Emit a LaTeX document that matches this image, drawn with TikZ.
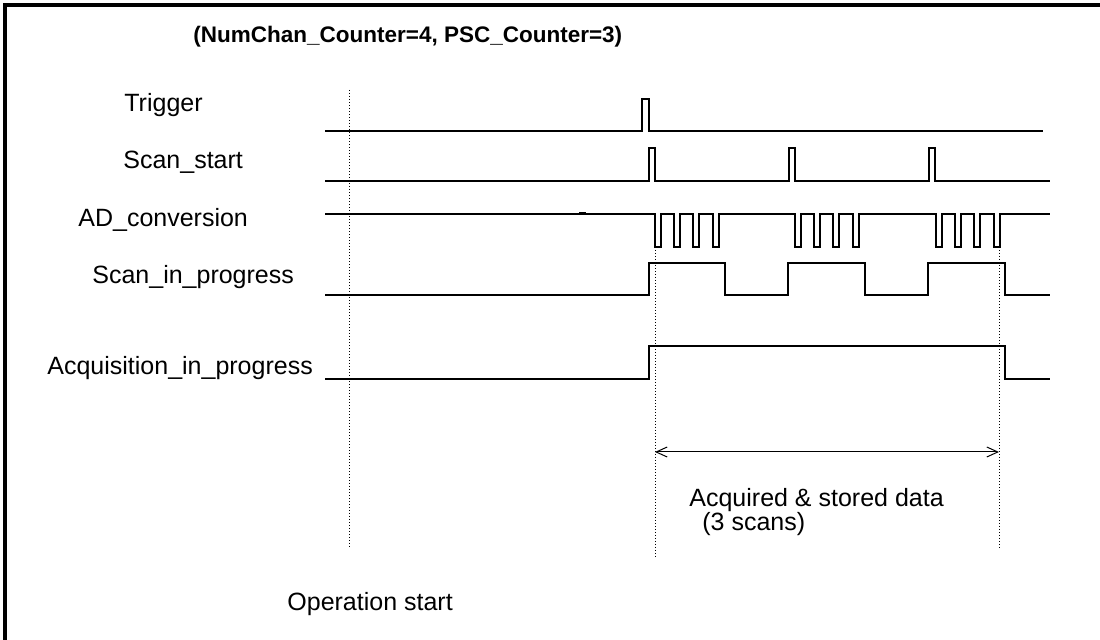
\documentclass[tikz,border=0pt]{standalone}
\usepackage{fontspec}
\setmainfont{Liberation Sans}
\usetikzlibrary{arrows.meta}
\begin{document}
\begin{tikzpicture}[x=0.5pt, y=-0.5pt,
  lbl/.style={anchor=base west, inner sep=0pt, font=\fontsize{12.5}{14}\selectfont},
  wave/.style={line width=0.75pt},
  guide/.style={densely dotted, line width=0.5pt}]
  \useasboundingbox (0,0) rectangle (1100,640);
  % frame
  \draw[line width=2pt] (5,640) -- (5,5) -- (1100,5);
  \node[lbl, font=\bfseries\fontsize{11.25}{13}\selectfont] (title) at (193,43)
    {(NumChan\_Counter=4, PSC\_Counter=3)};
  % signal names
  \node[lbl] (trig) at (124,112) {Trigger};
  \node[lbl] (scst) at (123,169) {Scan\_start};
  \node[lbl] (adc) at (78,227) {AD\_conversion};
  \node[lbl] (scin) at (92,284) {Scan\_in\_progress};
  \node[lbl] (acq) at (47,375) {Acquisition\_in\_progress};
  % waveforms
  \draw[wave] (325,131) -- (642,131) -- (642,99) -- (649,99) -- (649,131) -- (1043,131);
  \draw[wave] (325,181) foreach \s in {649,789,929}{
      -- (\s,181) -- (\s,148) -- (\s+6,148) -- (\s+6,181) } -- (1050,181);
  \draw[wave] (325,214) foreach \s in {655,795,936}{ foreach \o in {0,19,38,58}{
      -- (\s+\o,214) -- (\s+\o,247) -- (\s+\o+6,247) -- (\s+\o+6,214) } } -- (1050,214);
  \draw[line width=1.5pt] (579,214) -- (586,214);
  \draw[wave] (325,295) -- (649,295) -- (649,263) -- (725,263) -- (725,295)
    -- (788,295) -- (788,263) -- (865,263) -- (865,295)
    -- (928,295) -- (928,263) -- (1005,263) -- (1005,295) -- (1050,295);
  \draw[wave] (325,379) -- (649,379) -- (649,346) -- (1005,346) -- (1005,379) -- (1050,379);
  % time marks
  \draw[guide] (349,90) -- (349,548);
  \draw[guide] (655,214) -- (655,557);
  \draw[guide] (999,247) -- (999,548);
  \coordinate (dfrom) at (655,452);
  \coordinate (dto) at (999,452);
  \draw[{Straight Barb[length=5.5pt,width=5pt]}-{Straight Barb[length=5.5pt,width=5pt]}, line width=0.5pt]
    (dfrom) -- (dto);
  \node[lbl] (data) at (689,507) {Acquired \& stored data};
  \node[lbl] (nscan) at (702,531) {(3 scans)};
  \node[lbl] (opst) at (287,611) {Operation start};
\end{tikzpicture}
\end{document}
